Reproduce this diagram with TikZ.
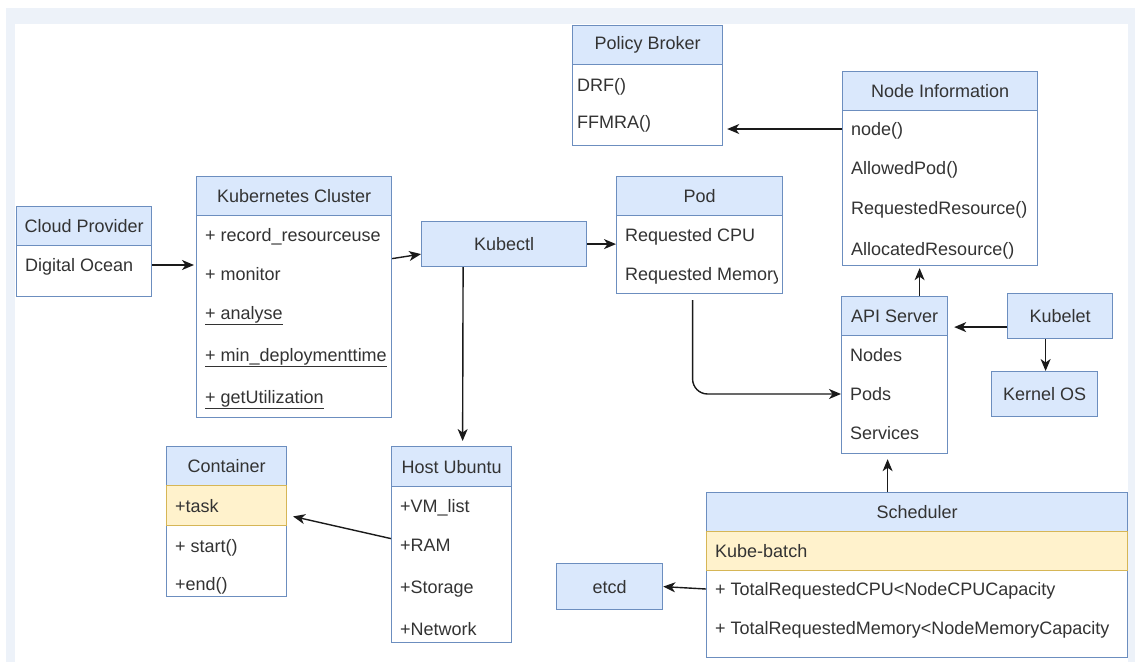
\documentclass[tikz,border=0pt]{standalone}
\usepackage{fontspec}
\setmainfont{Liberation Sans}
\usetikzlibrary{arrows.meta}

\definecolor{umlfill}{HTML}{DAE8FC}
\definecolor{umlline}{HTML}{6C8EBF}
\definecolor{notefill}{HTML}{FFF2CC}
\definecolor{noteline}{HTML}{D6B656}
\definecolor{txt}{HTML}{333333}
\definecolor{pagebg}{HTML}{EDF2F9}
\definecolor{arrcol}{HTML}{1A1A1A}

\tikzset{
    head/.style={draw=umlline, fill=umlfill, text=txt, line width=1.2pt, anchor=north west, minimum height=39, inner sep=0},
    body/.style={draw=umlline, fill=white, line width=1.2pt, anchor=north west, inner sep=0},
    note/.style={draw=noteline, fill=notefill, line width=1.2pt, anchor=north west, inner sep=0},
    box/.style={draw=umlline, fill=umlfill, text=txt, line width=1.2pt, anchor=north west, minimum height=45, inner sep=0},
    item/.style={anchor=west, inner sep=0, text=txt, text height=14pt, text depth=2pt},
    arr/.style={->, draw=arrcol, line width=1.4pt}
}

\begin{document}
\begin{tikzpicture}[x=1pt, y=-1pt, font=\fontsize{18}{21}\selectfont,
    >={Stealth[length=12pt,width=10pt,inset=3.5pt]}]
    \useasboundingbox (0,0) rectangle (1135,662);
    \fill[pagebg] (6,8) rectangle (1135,662);
    \fill[white] (15,24) rectangle (1128,662);

    \node[head, minimum width=150] (policy) at (572,25) {Policy Broker};
    \node[body, minimum width=150, minimum height=81] (polbody) at (572,64) {};
    \node[item] (drf) at (577,85) {DRF()};
    \node[item] (ffmra) at (577,122) {FFMRA()};

    \node[head, minimum width=195] (nodeinfo) at (842,71) {Node Information};
    \node[body, minimum width=195, minimum height=155] (nibody) at (842,110) {};
    \node[item] (nodefn) at (851,129) {node()};
    \node[item] (allowed) at (851,168) {AllowedPod()};
    \node[item] (requested) at (851,208) {RequestedResource()};
    \node[item] (allocated) at (851,249) {AllocatedResource()};

    \node[head, minimum width=135] (cloud) at (16,206) {Cloud Provider};
    \node[body, minimum width=135, minimum height=51] (cloudbody) at (16,245) {};
    \node[item] (digital) at (25,265) {Digital Ocean};

    \node[head, minimum width=195] (kube) at (196,176) {Kubernetes Cluster};
    \node[body, minimum width=195, minimum height=202] (kubebody) at (196,215) {};
    \node[item] (record) at (205,235) {+ record\_resourceuse};
    \node[item] (monitor) at (205,274) {+ monitor};
    \node[item] (analyse) at (205,313) {\underline{+ analyse}};
    \node[item] (mindeploy) at (205,355) {\underline{+ min\_deploymenttime}};
    \node[item] (getutil) at (205,397) {\underline{+ getUtilization}};

    \node[box, minimum width=165] (kubectl) at (421,221) {Kubectl};

    \node[head, minimum width=166] (pod) at (616,176) {Pod};
    \node[body, minimum width=166, minimum height=78] (podbody) at (616,215) {};
    \node[item] (reqcpu) at (625,235) {Requested CPU};
    \begin{scope}
        \clip (podbody.north west) rectangle ([xshift=-6pt]podbody.south east);
        \node[item] (reqmem) at (625,274) {Requested Memory};
    \end{scope}

    \node[head, minimum width=106] (api) at (841,296) {API Server};
    \node[body, minimum width=106, minimum height=118] (apibody) at (841,335) {};
    \node[item] (nodes) at (850,355) {Nodes};
    \node[item] (pods) at (850,394) {Pods};
    \node[item] (services) at (850,433) {Services};

    \node[box, minimum width=105] (kubelet) at (1007,293) {Kubelet};
    \node[box, minimum width=106] (kernel) at (991,371) {Kernel OS};

    \node[head, minimum width=120] (container) at (166,446) {Container};
    \node[body, minimum width=120, minimum height=111] (conbody) at (166,485) {};
    \node[note, minimum width=120, minimum height=40] (connote) at (166,485) {};
    \node[item] (task) at (175,506) {+task};
    \node[item] (start) at (175,546) {+ start()};
    \node[item] (endfn) at (175,584) {+end()};

    \node[head, minimum width=120, minimum height=40] (host) at (391,446) {Host Ubuntu};
    \node[body, minimum width=120, minimum height=156] (hostbody) at (391,486) {};
    \node[item] (vmlist) at (400,506) {+VM\_list};
    \node[item] (ram) at (400,545) {+RAM};
    \node[item] (storage) at (400,587) {+Storage};
    \node[item] (network) at (400,629) {+Network};

    \node[head, minimum width=421] (sched) at (706,492) {Scheduler};
    \node[body, minimum width=421, minimum height=126] (schedbody) at (706,531) {};
    \node[note, minimum width=421, minimum height=39] (schednote) at (706,531) {};
    \node[item] (kubebatch) at (715,551) {Kube-batch};
    \node[item] (cpucap) at (715,589) {+ TotalRequestedCPU<NodeCPUCapacity};
    \node[item] (memcap) at (715,628) {+ TotalRequestedMemory<NodeMemoryCapacity};

    \node[box, minimum width=106, minimum height=46] (etcd) at (556,563) {etcd};

    \draw[arr, shorten >=4pt] (nibody.west |- nodefn) -- (polbody.east |- nodefn);
    \draw[arr, shorten >=2pt] (cloudbody.east |- digital) -- (kubebody.west |- digital);
    \draw[arr] ([yshift=58pt]kubebody.east) -- ([yshift=-10pt]kubectl.west);
    \draw[arr] (kubectl.east) -- (kubectl.east -| podbody.west);
    \draw[arr, shorten >=5pt] ([xshift=-41pt]kubectl.south) -- ([xshift=11pt]host.north);
    \draw[arr, rounded corners=15] ([xshift=-7pt,yshift=-6pt]podbody.south) |- (apibody.west |- pods);
    \draw[arr, shorten >=2pt] ([xshift=25pt]api.north) -- ([xshift=-20.5pt]nibody.south);
    \draw[arr, shorten >=6pt] ([yshift=-11pt]kubelet.west) -- ([yshift=-11pt]api.east);
    \draw[arr] ([xshift=-14.5pt]kubelet.south) -- ([xshift=1pt]kernel.north);
    \draw[arr, shorten >=5pt] ([xshift=-29.5pt]sched.north) -- ([xshift=-7pt]apibody.south);
    \draw[arr, shorten >=6pt] ([yshift=26pt]hostbody.west) -- ([yshift=26pt]conbody.east);
    \draw[arr] (schedbody.west |- cpucap) -- (etcd.east);
\end{tikzpicture}
\end{document}
